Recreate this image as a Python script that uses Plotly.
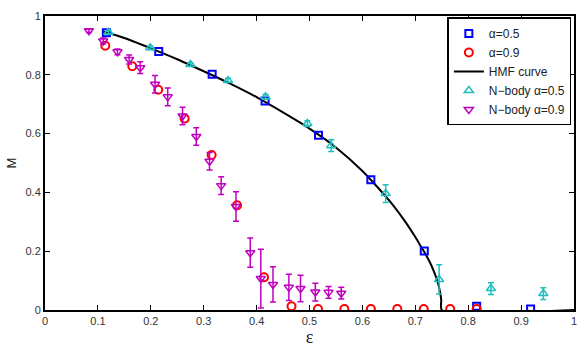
import plotly.graph_objects as go

# alpha=0.5 (blue squares)
sq_x = [0.116, 0.215, 0.316, 0.416, 0.517, 0.616, 0.717, 0.816, 0.918]
sq_y = [0.943, 0.879, 0.802, 0.711, 0.594, 0.443, 0.201, 0.013, 0.003]

# alpha=0.9 (red circles)
ci_x = [0.114, 0.165, 0.214, 0.264, 0.315, 0.363, 0.414, 0.466, 0.516, 0.566, 0.616, 0.666, 0.716, 0.766, 0.816]
ci_y = [0.899, 0.829, 0.749, 0.651, 0.527, 0.356, 0.111, 0.013, 0.003, 0.003, 0.003, 0.003, 0.003, 0.003, 0.003]

# HMF curve
hmf_x = [0.11, 0.15, 0.2, 0.25, 0.3, 0.35, 0.4, 0.45, 0.5, 0.55, 0.6, 0.63, 0.66, 0.68, 0.7, 0.71, 0.72, 0.73, 0.74, 0.745, 0.749, 0.75, 1.0]
hmf_y = [0.947, 0.925, 0.89, 0.853, 0.812, 0.77, 0.724, 0.672, 0.617, 0.553, 0.473, 0.415, 0.352, 0.303, 0.248, 0.218, 0.188, 0.153, 0.108, 0.077, 0.035, 0.0, 0.0]

# N-body alpha=0.5 (cyan up-triangles)
nb5_x = [0.12, 0.199, 0.275, 0.346, 0.417, 0.496, 0.541, 0.644, 0.745, 0.843, 0.942]
nb5_y = [0.945, 0.892, 0.835, 0.781, 0.725, 0.634, 0.559, 0.396, 0.104, 0.073, 0.056]
nb5_e = [0.006, 0.006, 0.006, 0.006, 0.008, 0.01, 0.02, 0.03, 0.05, 0.02, 0.02]

# N-body alpha=0.9 (magenta down-triangles)
nb9_x = [0.083, 0.11, 0.137, 0.159, 0.18, 0.208, 0.232, 0.26, 0.286, 0.311, 0.333, 0.361, 0.388, 0.408, 0.431, 0.461, 0.483, 0.511, 0.536, 0.56]
nb9_y = [0.95, 0.915, 0.878, 0.852, 0.824, 0.768, 0.725, 0.66, 0.59, 0.506, 0.423, 0.352, 0.195, 0.107, 0.087, 0.077, 0.073, 0.061, 0.06, 0.057]
nb9_e = [0.006, 0.01, 0.01, 0.015, 0.02, 0.03, 0.03, 0.03, 0.03, 0.03, 0.03, 0.05, 0.05, 0.1, 0.06, 0.045, 0.045, 0.03, 0.02, 0.02]

BLUE = "#0000ff"
RED = "#ff0000"
CYAN = "#1fbfbf"
MAG = "#bf00bf"

fig = go.Figure()
fig.add_trace(go.Scatter(x=hmf_x, y=hmf_y, mode="lines", name="HMF curve", line_shape="spline",
                         line=dict(color="black", width=2, smoothing=0.6), legendrank=3))
fig.add_trace(go.Scatter(x=sq_x, y=sq_y, mode="markers", name="α=0.5", legendrank=1,
                         marker=dict(symbol="square-open", size=7, color=BLUE, line=dict(width=2))))
fig.add_trace(go.Scatter(x=ci_x, y=ci_y, mode="markers", name="α=0.9", legendrank=2,
                         marker=dict(symbol="circle-open", size=8, color=RED, line=dict(width=2))))
fig.add_trace(go.Scatter(x=nb5_x, y=nb5_y, mode="markers", name="N−body α=0.5", legendrank=4,
                         error_y=dict(type="data", array=nb5_e, color=CYAN, thickness=1.5, width=3),
                         marker=dict(symbol="triangle-up-open", size=8, color=CYAN, line=dict(width=1.5))))
fig.add_trace(go.Scatter(x=nb9_x, y=nb9_y, mode="markers", name="N−body α=0.9", legendrank=5,
                         error_y=dict(type="data", array=nb9_e, color=MAG, thickness=1.5, width=3),
                         marker=dict(symbol="triangle-down-open", size=8, color=MAG, line=dict(width=1.5))))

axis_common = dict(showgrid=False, zeroline=False, showline=True, linecolor="black", linewidth=2,
                   mirror="ticks", ticks="inside", ticklen=5, tickwidth=1, tickcolor="black",
                   tickfont=dict(family="Liberation Sans, Arial", size=11, color="#333"))

fig.update_layout(
    width=587, height=352,
    margin=dict(l=43, r=10, t=12, b=42),
    paper_bgcolor="white", plot_bgcolor="white",
    showlegend=True,
    legend=dict(x=0.995, y=0.995, xanchor="right", yanchor="top",
                bordercolor="black", borderwidth=1.5, bgcolor="white",
                font=dict(family="Liberation Sans, Arial", size=12, color="#222"),
                tracegroupgap=0, itemwidth=30),
    xaxis=dict(range=[0, 1], dtick=0.1, tickformat="~g",
               title=dict(text="ε", font=dict(family="Liberation Serif, Times New Roman", size=18, color="#222"), standoff=2),
               **axis_common),
    yaxis=dict(range=[0, 1], dtick=0.2, tickformat="~g",
               title=dict(text="M", font=dict(family="Liberation Sans, Arial", size=13, color="#222"), standoff=6),
               **axis_common),
)

fig.write_html("out.html")
